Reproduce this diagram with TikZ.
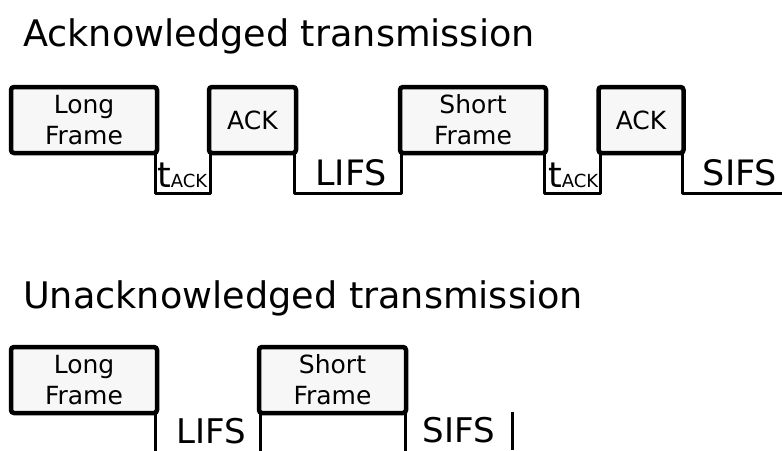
\documentclass[tikz,border=0pt]{standalone}
\usepackage{fontspec}
\setmainfont{DejaVu Sans}
\usepackage{xcolor}
\usepackage{tikz}
\usetikzlibrary{positioning}
\definecolor{boxgray}{HTML}{F7F7F7}
\tikzset{wire/.style = {line width=3pt, line join=round}}

\begin{document}
\begin{tikzpicture}[x=1pt,y=-1pt,
    main node/.style={rectangle,rounded corners=3pt,draw,line width=4.5pt,fill=boxgray,inner sep=0pt,outer sep=0pt,minimum height=66pt,align=center,font=\fontsize{25}{31}\selectfont},
    title/.style={anchor=base west,inner sep=0pt,font=\fontsize{36.6}{43}\selectfont},
    gap/.style={anchor=base,inner sep=0pt,text depth=0pt,font=\fontsize{35}{40}\selectfont}]

    \useasboundingbox (0,0) rectangle (782,450);

    % acknowledged
    \node[title] (ack title) at (23,46) {Acknowledged transmission};
    \node[main node,minimum width=146pt] (1) at (84,120) {Long\\Frame};
    \node[main node,minimum width=87pt] (2) at (252.5,120) {ACK};
    \node[main node,minimum width=146pt] (3) at (473,120) {Short\\Frame};
    \node[main node,minimum width=85pt] (4) at (641,120) {ACK};
    \coordinate (end1) at (782,193);

    \draw[wire] ([xshift=-1.5pt]1.south east) -- ++(0,40) -| ([xshift=1.5pt]2.south west);
    \draw[wire] ([xshift=-1.5pt]2.south east) -- ++(0,40) -| ([xshift=1.5pt]3.south west);
    \draw[wire] ([xshift=-1.5pt]3.south east) -- ++(0,40) -| ([xshift=1.5pt]4.south west);
    \draw[wire] ([xshift=-1.5pt]4.south east) |- (end1);

    \node[anchor=base west,inner sep=0pt] (tack1) at (157,187) {\fontsize{35}{40}\selectfont t\fontsize{18}{22}\selectfont ACK};
    \node[gap] (lifs1) at (351,185) {LIFS};
    \node[anchor=base west,inner sep=0pt] (tack2) at (548,187) {\fontsize{35}{40}\selectfont t\fontsize{18}{22}\selectfont ACK};
    \node[gap] (sifs1) at (740,185) {SIFS};

    % unacknowledged
    \node[title] (unack title) at (23,308) {Unacknowledged transmission};
    \node[main node,minimum width=146pt] (5) at (84,380) {Long\\Frame};
    \node[main node,minimum width=147pt] (6) at (332.5,380) {Short\\Frame};
    \coordinate (bar top) at (512,412);
    \coordinate (bar bot) at (512,450);

    \draw[wire] ([xshift=-2pt]5.south east) -- ++(0,38);
    \draw[wire] ([xshift=1pt]6.south west) -- ++(0,38);
    \draw[wire] ([xshift=-1pt]6.south east) -- ++(0,38);
    \draw[wire] (bar top) -- (bar bot);

    \node[gap,font=\fontsize{34}{40}\selectfont] (lifs2) at (211,443) {LIFS};
    \node[gap,font=\fontsize{34}{40}\selectfont] (sifs2) at (459,442) {SIFS};

\end{tikzpicture}
\end{document}
